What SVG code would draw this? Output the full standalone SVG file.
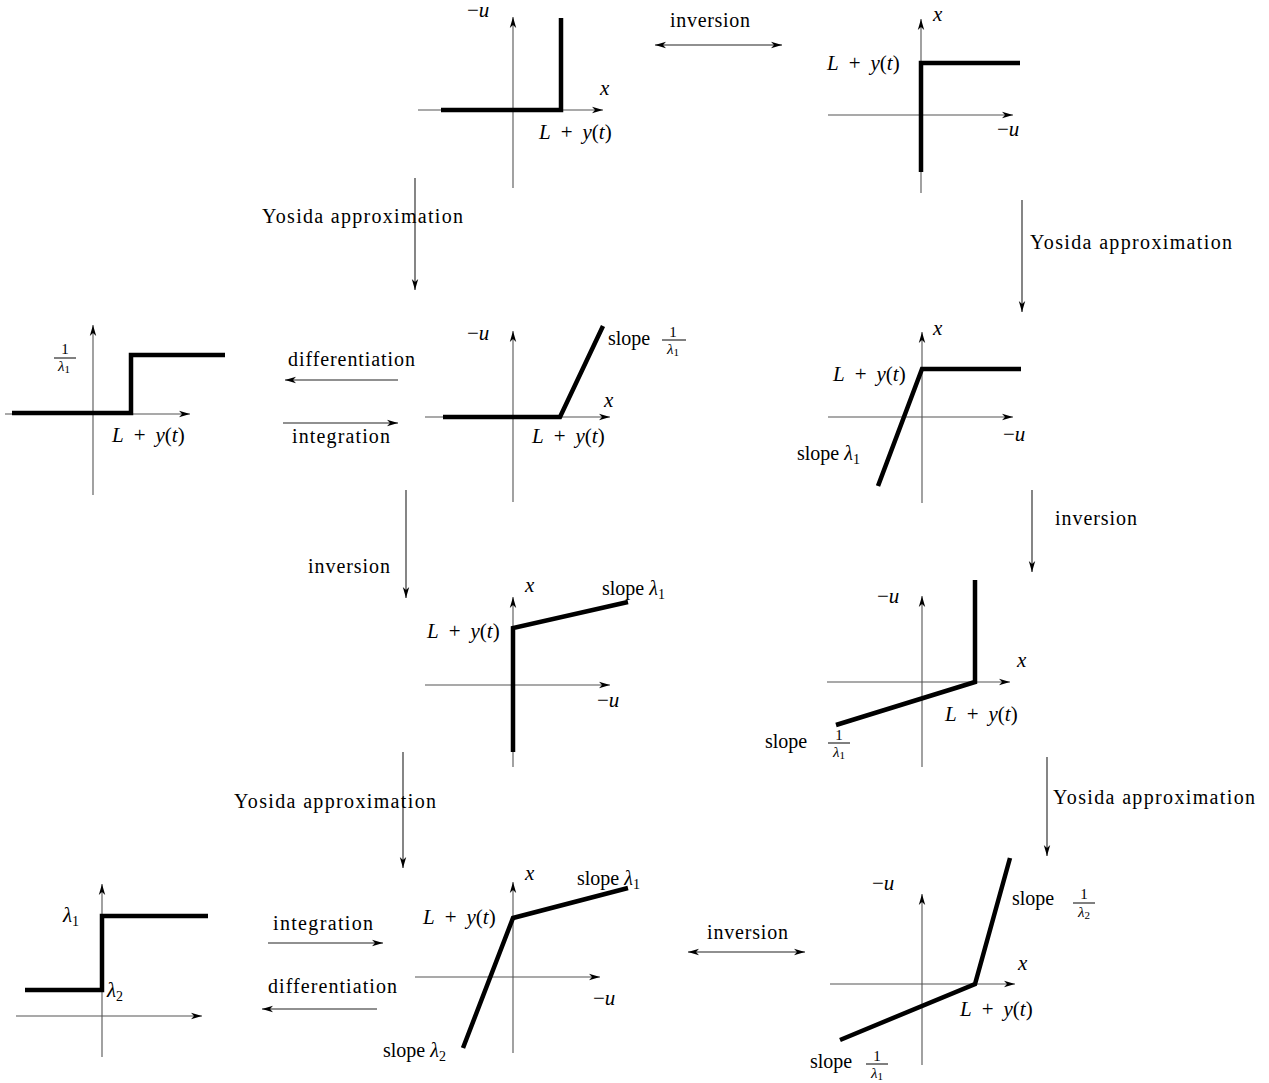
<svg xmlns="http://www.w3.org/2000/svg" width="1269" height="1083" viewBox="0 0 1269 1083">
<defs>
<marker id="ah" markerUnits="userSpaceOnUse" markerWidth="12" markerHeight="8" refX="11" refY="4" orient="auto-start-reverse">
<path d="M0,0.8 L11,4 L0,7.2 L3,4 Z" fill="#000"/>
</marker>
<style>
.ax{stroke:#555;stroke-width:1.1;fill:none;marker-end:url(#ah)}
.th{stroke:#000;stroke-width:4.5;fill:none;stroke-linejoin:miter}
.cn{stroke:#222;stroke-width:1.1;fill:none;marker-end:url(#ah)}
.dbl{marker-start:url(#ah)}
.bar{stroke:#000;stroke-width:1}
text{font-family:"Liberation Serif","DejaVu Serif",serif;font-size:20px;fill:#000}
.m{font-size:21px}
.i{font-style:italic}
.s{font-size:14px}
.f{font-size:15px;text-anchor:middle}
.fs{font-size:11px}
</style>
</defs>
<rect width="1269" height="1083" fill="#fff"/>

<g id="connectors">
<line class="cn dbl" x1="655" y1="45" x2="782" y2="45"/>
<text x="670" y="27" textLength="80">inversion</text>
<line class="cn" x1="415" y1="178" x2="415" y2="290"/>
<text x="262" y="223" textLength="201">Yosida approximation</text>
<line class="cn" x1="1022" y1="200" x2="1022" y2="312"/>
<text x="1030" y="249" textLength="202">Yosida approximation</text>
<line class="cn" x1="398" y1="380" x2="285" y2="380"/>
<text x="288" y="366" textLength="127">differentiation</text>
<line class="cn" x1="283" y1="423" x2="398" y2="423"/>
<text x="292" y="443" textLength="98">integration</text>
<line class="cn" x1="406" y1="490" x2="406" y2="598"/>
<text x="308" y="573" textLength="82">inversion</text>
<line class="cn" x1="1032" y1="490" x2="1032" y2="572"/>
<text x="1055" y="525" textLength="82">inversion</text>
<line class="cn" x1="403" y1="752" x2="403" y2="868"/>
<text x="234" y="808" textLength="202">Yosida approximation</text>
<line class="cn" x1="1047" y1="757" x2="1047" y2="856"/>
<text x="1053" y="804" textLength="202">Yosida approximation</text>
<line class="cn" x1="268" y1="943" x2="383" y2="943"/>
<text x="273" y="930" textLength="100">integration</text>
<line class="cn" x1="377" y1="1009" x2="262" y2="1009"/>
<text x="268" y="993" textLength="129">differentiation</text>
<line class="cn dbl" x1="688" y1="952" x2="805" y2="952"/>
<text x="707" y="939" textLength="81">inversion</text>
</g>

<g id="plot1">
<line class="ax" x1="513" y1="188" x2="513" y2="17"/>
<line class="ax" x1="418" y1="110" x2="603" y2="110"/>
<polyline class="th" points="441,110 561,110 561,18"/>
<text x="467" y="17" class="m">−<tspan class="i">u</tspan></text>
<text x="600" y="95" class="m i">x</text>
<text x="539" y="139" class="m"><tspan class="i">L</tspan><tspan dx="10">+</tspan><tspan dx="10" class="i">y</tspan>(<tspan class="i">t</tspan>)</text>
</g>

<g id="plot2">
<line class="ax" x1="921" y1="193" x2="921" y2="19"/>
<line class="ax" x1="828" y1="115" x2="1013" y2="115"/>
<polyline class="th" points="921,172 921,63 1020,63"/>
<text x="933" y="21" class="m i">x</text>
<text x="827" y="70" class="m"><tspan class="i">L</tspan><tspan dx="10">+</tspan><tspan dx="10" class="i">y</tspan>(<tspan class="i">t</tspan>)</text>
<text x="997" y="136" class="m">−<tspan class="i">u</tspan></text>
</g>

<g id="plot3">
<line class="ax" x1="93" y1="495" x2="93" y2="325"/>
<line class="ax" x1="5" y1="414" x2="190" y2="414"/>
<polyline class="th" points="12,413 131,413 131,355 225,355"/>
<text x="65" y="354" class="f">1</text>
<line class="bar" x1="54" y1="358" x2="76" y2="358"/>
<text x="64" y="371" class="f"><tspan class="i">λ</tspan><tspan class="fs" dy="2">1</tspan></text>
<text x="112" y="442" class="m"><tspan class="i">L</tspan><tspan dx="10">+</tspan><tspan dx="10" class="i">y</tspan>(<tspan class="i">t</tspan>)</text>
</g>

<g id="plot4">
<line class="ax" x1="513" y1="502" x2="513" y2="331"/>
<line class="ax" x1="425" y1="417" x2="610" y2="417"/>
<polyline class="th" points="443,417 560,417 603,326"/>
<text x="467" y="340" class="m">−<tspan class="i">u</tspan></text>
<text x="604" y="407" class="m i">x</text>
<text x="532" y="443" class="m"><tspan class="i">L</tspan><tspan dx="10">+</tspan><tspan dx="10" class="i">y</tspan>(<tspan class="i">t</tspan>)</text>
<text x="608" y="345">slope</text>
<text x="673" y="337" class="f">1</text>
<line class="bar" x1="662" y1="340" x2="686" y2="340"/>
<text x="673" y="354" class="f"><tspan class="i">λ</tspan><tspan class="fs" dy="2">1</tspan></text>
</g>

<g id="plot5">
<line class="ax" x1="922" y1="503" x2="922" y2="332"/>
<line class="ax" x1="828" y1="417" x2="1013" y2="417"/>
<polyline class="th" points="878,486 922,369 1021,369"/>
<text x="933" y="335" class="m i">x</text>
<text x="833" y="381" class="m"><tspan class="i">L</tspan><tspan dx="10">+</tspan><tspan dx="10" class="i">y</tspan>(<tspan class="i">t</tspan>)</text>
<text x="1003" y="441" class="m">−<tspan class="i">u</tspan></text>
<text x="797" y="460">slope <tspan class="i">λ</tspan><tspan class="s" dy="4">1</tspan></text>
</g>

<g id="plot6">
<line class="ax" x1="513" y1="767" x2="513" y2="597"/>
<line class="ax" x1="425" y1="685" x2="610" y2="685"/>
<polyline class="th" points="513,752 513,628 628,602"/>
<text x="525" y="592" class="m i">x</text>
<text x="427" y="638" class="m"><tspan class="i">L</tspan><tspan dx="10">+</tspan><tspan dx="10" class="i">y</tspan>(<tspan class="i">t</tspan>)</text>
<text x="597" y="707" class="m">−<tspan class="i">u</tspan></text>
<text x="602" y="595">slope <tspan class="i">λ</tspan><tspan class="s" dy="4">1</tspan></text>
</g>

<g id="plot7">
<line class="ax" x1="922" y1="767" x2="922" y2="596"/>
<line class="ax" x1="827" y1="682" x2="1010" y2="682"/>
<polyline class="th" points="975,580 975,682 836,725"/>
<text x="877" y="603" class="m">−<tspan class="i">u</tspan></text>
<text x="1017" y="667" class="m i">x</text>
<text x="945" y="721" class="m"><tspan class="i">L</tspan><tspan dx="10">+</tspan><tspan dx="10" class="i">y</tspan>(<tspan class="i">t</tspan>)</text>
<text x="765" y="748">slope</text>
<text x="839" y="740" class="f">1</text>
<line class="bar" x1="828" y1="743" x2="850" y2="743"/>
<text x="839" y="757" class="f"><tspan class="i">λ</tspan><tspan class="fs" dy="2">1</tspan></text>
</g>

<g id="plot8">
<line class="ax" x1="102" y1="1057" x2="102" y2="884"/>
<line class="ax" x1="16" y1="1016" x2="202" y2="1016"/>
<polyline class="th" points="25,990 102,990 102,916 208,916"/>
<text x="63" y="922" class="m"><tspan class="i">λ</tspan><tspan class="s" dy="4">1</tspan></text>
<text x="107" y="997" class="m"><tspan class="i">λ</tspan><tspan class="s" dy="4">2</tspan></text>
</g>

<g id="plot9">
<line class="ax" x1="513" y1="1053" x2="513" y2="882"/>
<line class="ax" x1="415" y1="977" x2="600" y2="977"/>
<polyline class="th" points="463,1048 513,918 628,888"/>
<text x="525" y="880" class="m i">x</text>
<text x="423" y="924" class="m"><tspan class="i">L</tspan><tspan dx="10">+</tspan><tspan dx="10" class="i">y</tspan>(<tspan class="i">t</tspan>)</text>
<text x="577" y="885">slope <tspan class="i">λ</tspan><tspan class="s" dy="4">1</tspan></text>
<text x="593" y="1005" class="m">−<tspan class="i">u</tspan></text>
<text x="383" y="1057">slope <tspan class="i">λ</tspan><tspan class="s" dy="4">2</tspan></text>
</g>

<g id="plot10">
<line class="ax" x1="922" y1="1065" x2="922" y2="894"/>
<line class="ax" x1="830" y1="984" x2="1015" y2="984"/>
<polyline class="th" points="840,1040 975,984 1010,858"/>
<text x="872" y="890" class="m">−<tspan class="i">u</tspan></text>
<text x="1012" y="905">slope</text>
<text x="1084" y="899" class="f">1</text>
<line class="bar" x1="1073" y1="903" x2="1095" y2="903"/>
<text x="1084" y="917" class="f"><tspan class="i">λ</tspan><tspan class="fs" dy="2">2</tspan></text>
<text x="1018" y="970" class="m i">x</text>
<text x="960" y="1016" class="m"><tspan class="i">L</tspan><tspan dx="10">+</tspan><tspan dx="10" class="i">y</tspan>(<tspan class="i">t</tspan>)</text>
<text x="810" y="1068">slope</text>
<text x="877" y="1061" class="f">1</text>
<line class="bar" x1="866" y1="1064" x2="888" y2="1064"/>
<text x="877" y="1078" class="f"><tspan class="i">λ</tspan><tspan class="fs" dy="2">1</tspan></text>
</g>
</svg>
